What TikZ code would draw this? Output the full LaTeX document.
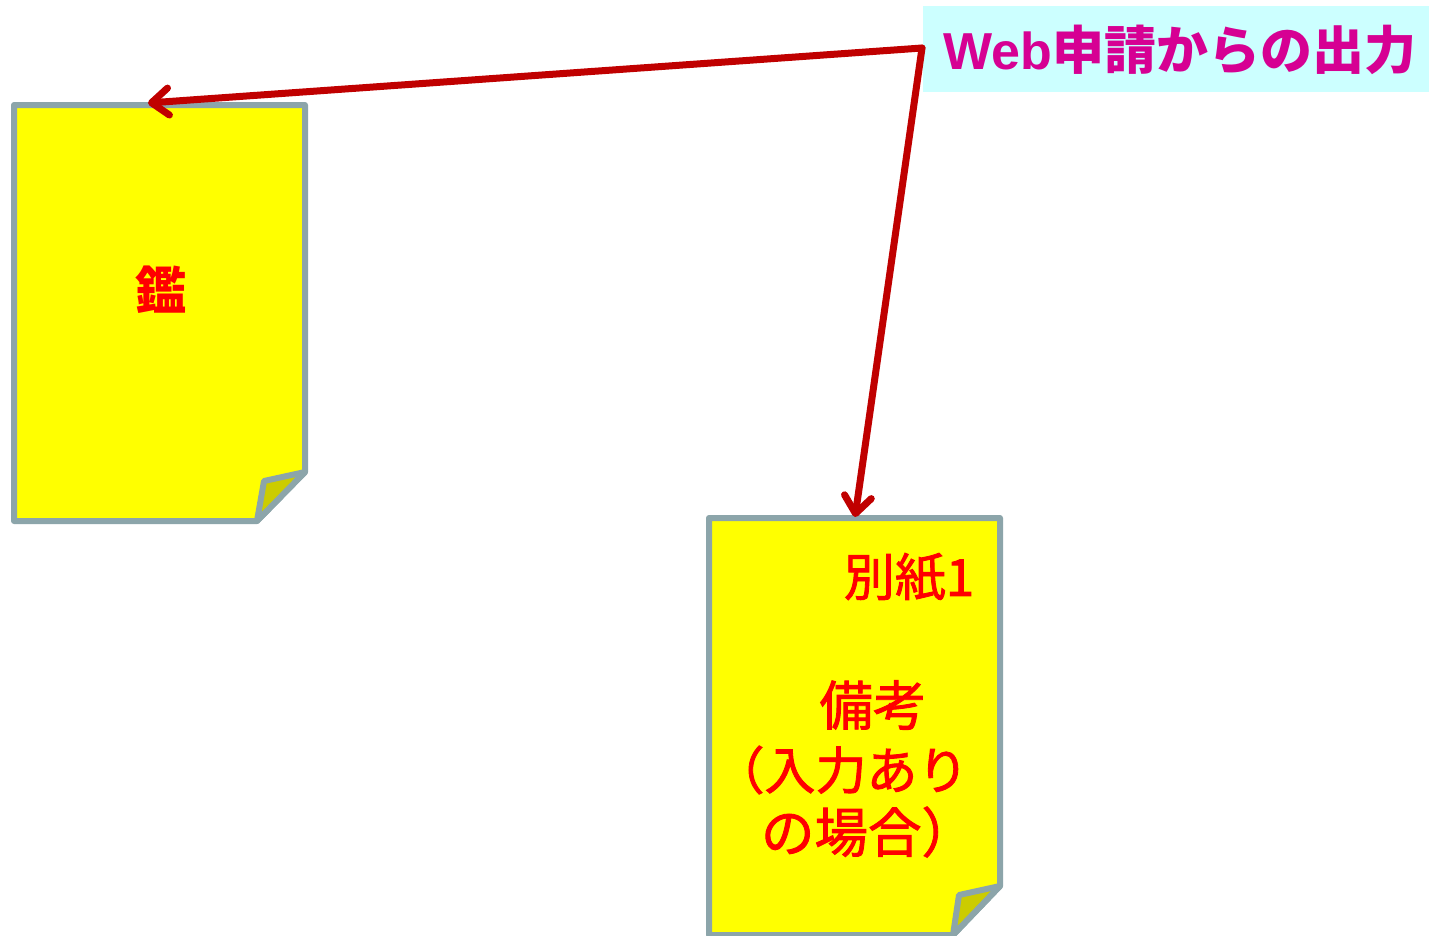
\documentclass[tikz,border=0pt]{standalone}
\usepackage{fontspec}
\newfontfamily\cjk{Noto Sans CJK JP}
\newfontfamily\cjkmid[FakeBold=1.6]{Noto Sans CJK JP}
\newfontfamily\latinb{Liberation Sans}
\usetikzlibrary{arrows.meta}
\definecolor{docgray}{HTML}{8CA5AA}
\definecolor{foldcol}{HTML}{CCCC00}
\definecolor{arrowred}{HTML}{C00000}
\definecolor{labelbg}{HTML}{CCFFFF}
\definecolor{labeltxt}{HTML}{D60093}
\definecolor{pageyellow}{HTML}{FFFF00}
\definecolor{txtred}{HTML}{FF0000}
\tikzset{
  docpage/.style={draw=docgray,fill=pageyellow,line width=6pt,line join=round},
  docfold/.style={draw=docgray,fill=foldcol,line width=6pt,line join=round},
  doctext/.style={inner sep=0pt,text=txtred,font=\cjkmid\fontsize{51}{60}\selectfont},
  doctextl/.style={inner sep=0pt,text=txtred,font=\cjkmid\fontsize{53.5}{60}\selectfont},
  doctextb/.style={inner sep=0pt,text=txtred,font=\cjk\bfseries\fontsize{51}{60}\selectfont},
  titlebox/.style={fill=labelbg,inner sep=0pt,minimum width=506pt,minimum height=86pt},
  titletxt/.style={inner sep=0pt,text=labeltxt,font=\fontsize{52}{60}\selectfont},
  link/.style={draw=arrowred,line width=7pt,line cap=round,line join=round,-{Straight Barb[length=17pt,width=27pt,line width=7pt,round]}}
}
\begin{document}
\begin{tikzpicture}[x=1pt,y=-1pt]
\useasboundingbox (0,0) rectangle (1429,935);
\fill[white] (0,0) rectangle (1429,935);
% document 1
\draw[docpage] (14,105) -- (305,105) -- (305,472) -- (257,521) -- (14,521) -- cycle;
\draw[docfold] (305,472) -- (264,481) -- (257,521) -- cycle;
\node[doctextb] (kagami) at (161,290) {鑑};
% document 2
\begin{scope}
\clip (0,0) rectangle (1429,935);
\draw[docpage] (709,518) -- (1000,518) -- (1000,886) -- (953,935) -- (709,935) -- cycle;
\draw[docfold] (1000,886) -- (959,895) -- (953,935) -- cycle;
\end{scope}
\node[doctext] (bessi) at (909,577) {別紙1};
\node[doctextl] (biko) at (873,705) {備考};
\node[doctext] (nyu) at (841,770) {（入力あり};
\node[doctextl] (baai) at (868,832) {の場合）};
% label
\node[titlebox,anchor=north west] (title) at (923,6) {};
\node[titletxt] (titletext) at (1180,50) {\latinb\bfseries Web\cjk\bfseries 申請からの出力};
% connectors
\coordinate (hub) at (922,48);
\coordinate (doc1top) at (148,103);
\coordinate (doc2top) at (855,517);
\draw[link] (hub) -- (doc1top);
\draw[link] (hub) -- (doc2top);
\end{tikzpicture}
\end{document}
